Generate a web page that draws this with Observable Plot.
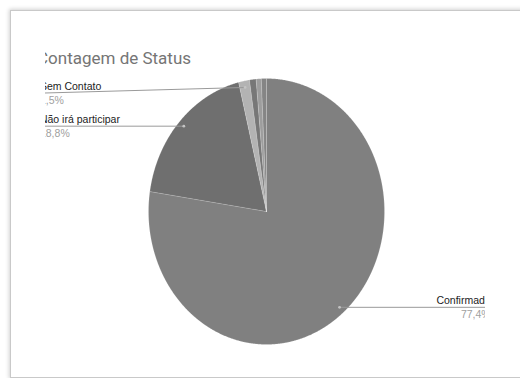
<!DOCTYPE html>
<html>
<head>
<meta charset="utf-8">
<script src="https://cdn.jsdelivr.net/npm/d3@7"></script>
<script src="https://cdn.jsdelivr.net/npm/@observablehq/plot@0.6"></script>
<style>
  html, body { margin: 0; padding: 0; background: #ffffff; }
  #wrap { position: relative; width: 520px; height: 378px; overflow: hidden; background: #fff; }
  #frame { position: absolute; left: 10px; top: 10px; width: 520px; height: 366px;
           border: 1px solid #c9c9c9; box-shadow: 0 0 4px 1px rgba(0,0,0,0.18); background: #fff; }
  #clip { position: absolute; left: 0; top: 0; width: 520px; height: 378px;
          clip-path: inset(0px 35px 0px 45px); }
  #title { position: absolute; left: 37px; top: 50px; font-family: Roboto, sans-serif;
           font-size: 17px; line-height: 1; color: #757575; white-space: nowrap; }
  #chart { position: absolute; left: 0; top: 0; }
</style>
</head>
<body>
<div id="wrap">
  <div id="frame"></div>
  <div id="clip">
    <div id="title">Contagem de Status</div>
    <div id="chart"></div>
  </div>
</div>
<script>
// ---- data ----
const categories = ["Confirmado", "Não irá participar", "Sem Contato", "Outros 1", "Outros 2", "Outros 3"];
const percents = [77.4, 18.8, 1.5, 0.9, 0.7, 0.7];
const labeledCategories = ["Confirmado", "Não irá participar", "Sem Contato"];

// ---- geometry derived from the data ----
const total = d3.sum(percents);
const slices = [];
let cum = 0;
categories.forEach((name, i) => {
  const a0 = cum / total * 2 * Math.PI;
  cum += percents[i];
  const a1 = cum / total * 2 * Math.PI;
  slices.push({name, value: percents[i], a0, a1, mid: (a0 + a1) / 2});
});

const polyPoints = [];
for (const s of slices) {
  polyPoints.push({name: s.name, x: 0, y: 0});
  const n = Math.max(2, Math.ceil((s.a1 - s.a0) / 0.005));
  for (let k = 0; k <= n; k++) {
    const t = s.a0 + (s.a1 - s.a0) * k / n;
    polyPoints.push({name: s.name, x: Math.sin(t), y: Math.cos(t)});
  }
  polyPoints.push({name: s.name, x: 0, y: 0});
}

const LEFT_EDGE = -1.92, RIGHT_EDGE = 1.90, TOP_LIMIT = 0.89, DOT_R = 0.95;
const labels = slices.filter(s => labeledCategories.includes(s.name)).map(s => {
  const dx = DOT_R * Math.sin(s.mid), dy = DOT_R * Math.cos(s.mid);
  const right = Math.sin(s.mid) >= 0;
  const ly = right ? dy : Math.min(dy, TOP_LIMIT);
  return {
    name: s.name,
    pct: s.value.toFixed(1).replace(".", ",") + "%",
    dx, dy, right, lx: right ? RIGHT_EDGE : LEFT_EDGE, ly
  };
});
const leftLabels = labels.filter(d => !d.right);
const rightLabels = labels.filter(d => d.right);

const colorRange = ["#808080", "#6f6f6f", "#b3b3b3", "#777777", "#9d9d9d", "#858585"];
const labelFont = "Liberation Sans, Arial, sans-serif";

function labelMarks(data, anchor) {
  return [
    Plot.text(data, {x: "lx", y: "ly", text: "name", textAnchor: anchor, lineAnchor: "bottom", dy: -3.5,
      fontSize: 10.5, fill: "#222222", fontFamily: labelFont}),
    Plot.text(data, {x: "lx", y: "ly", text: "pct", textAnchor: anchor, lineAnchor: "bottom", dy: 11,
      fontSize: 10.5, fill: "#a0a0a0", fontFamily: labelFont})
  ];
}

const chart = Plot.plot({
  width: 520,
  height: 378,
  marginLeft: 148,
  marginRight: 136,
  marginTop: 78,
  marginBottom: 34,
  x: {domain: [-1, 1], axis: null},
  y: {domain: [-1, 1], axis: null},
  color: {domain: categories, range: colorRange},
  style: {background: "transparent", overflow: "visible"},
  marks: [
    Plot.line(polyPoints, {x: "x", y: "y", z: "name", fill: "name",
      stroke: "#ffffff", strokeOpacity: 0.25, strokeWidth: 0.6, curve: "linear"}),
    Plot.link(labels, {x1: "dx", y1: "dy", x2: "lx", y2: "ly", stroke: "#9a9a9a", strokeWidth: 1}),
    Plot.dot(labels, {x: "dx", y: "dy", r: 1.4, fill: "#c4c4c4", stroke: null}),
    ...labelMarks(leftLabels, "start"),
    ...labelMarks(rightLabels, "end")
  ]
});
document.getElementById("chart").appendChild(chart);
</script>
</body>
</html>
